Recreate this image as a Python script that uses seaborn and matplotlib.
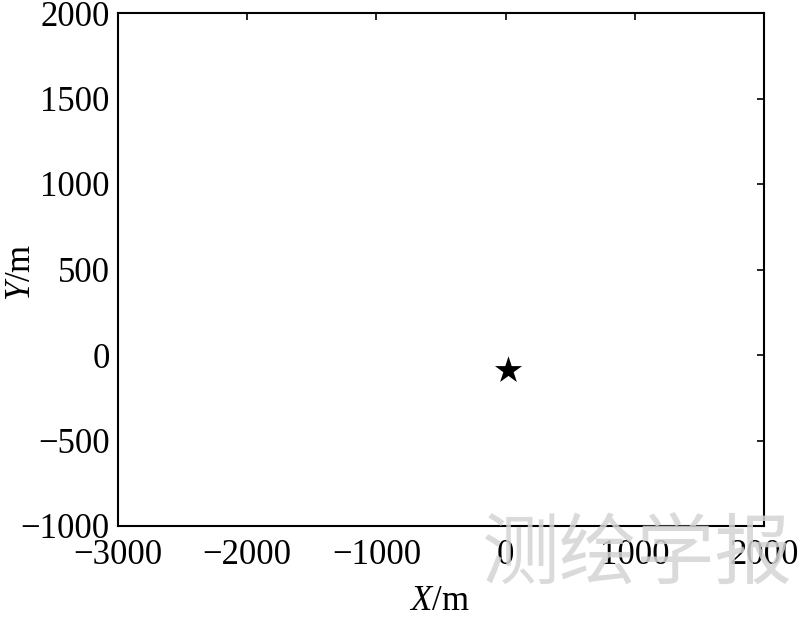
import matplotlib
matplotlib.use("Agg")
import matplotlib.pyplot as plt
import seaborn as sns
import pandas as pd

# target position (star)
star_x = [20]
star_y = [-90]

x_ticks = [-3000, -2000, -1000, 0, 1000, 2000]
y_ticks = [-1000, -500, 0, 500, 1000, 1500, 2000]

sns.set_theme(style="white")
plt.rcParams['font.family'] = ['Liberation Serif', 'DejaVu Serif']
plt.rcParams['mathtext.fontset'] = 'custom'
plt.rcParams['mathtext.rm'] = 'Liberation Serif'
plt.rcParams['mathtext.it'] = 'Liberation Serif:italic'

df = pd.DataFrame({'x': star_x, 'y': star_y})

fig = plt.figure(figsize=(8, 6.19), dpi=100)
ax = fig.add_axes([118 / 800, 1 - 526 / 619, (764 - 118) / 800, (526 - 13) / 619])

sns.scatterplot(data=df, x='x', y='y', marker='*', s=420, color='black',
                edgecolor='black', linewidth=0, ax=ax, zorder=3)

ax.set_xlim(-3000, 2000)
ax.set_ylim(-1000, 2000)
ax.set_xticks(x_ticks)
ax.set_yticks(y_ticks)
ax.set_xticklabels([str(t).replace('-', '\u2212') for t in x_ticks])
ax.set_yticklabels([str(t).replace('-', '\u2212') for t in y_ticks])
ax.tick_params(direction='in', length=5, width=1.2, top=True, right=True,
               labelsize=25, colors='black', pad=6)
ax.tick_params(axis='x', pad=9)
for s in ax.spines.values():
    s.set_linewidth(1.5)
    s.set_color('black')

ax.set_xlabel(r'$\mathit{X}$/m', fontsize=25, color='black')
ax.set_ylabel(r'$\mathit{Y}$/m', fontsize=25, color='black')
ax.xaxis.set_label_coords(0.498, -0.115)
ax.yaxis.set_label_coords(-0.124, 0.495)

# watermark
fig.text(0.99, 0.036, '测绘学报', fontsize=56, color='#d4d4d4', alpha=0.85,
         ha='right', va='bottom', family=['Noto Sans CJK SC', 'DejaVu Sans'], zorder=10)

plt.savefig('out.png', dpi=100)
